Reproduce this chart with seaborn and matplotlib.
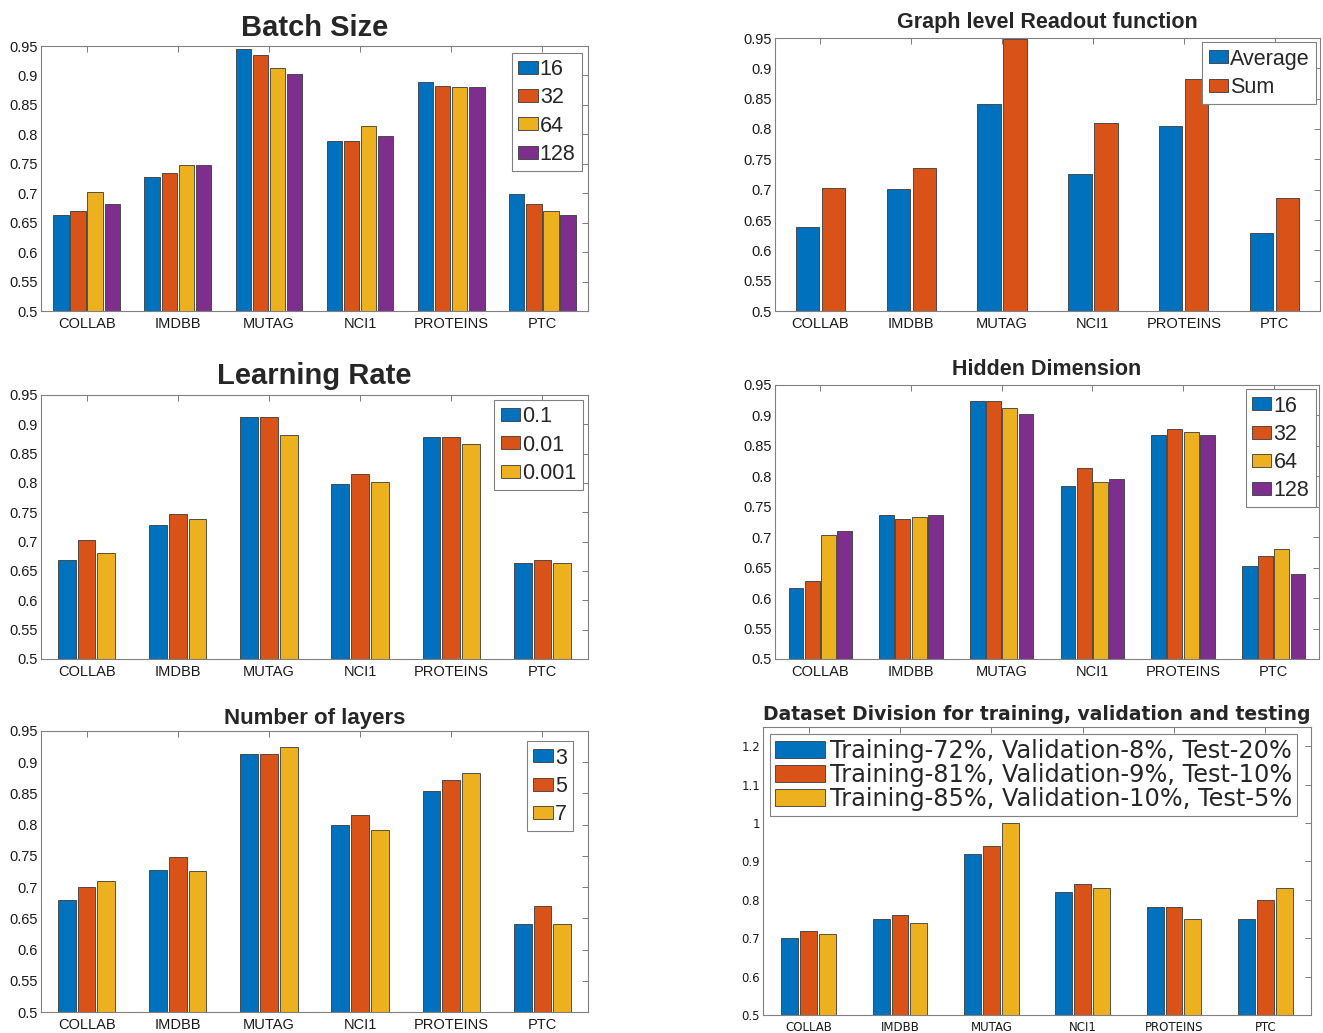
import numpy as np
import pandas as pd
import matplotlib
matplotlib.use("Agg")
import matplotlib.pyplot as plt
import seaborn as sns

sns.set_style("white")
plt.rcParams["font.family"] = ["Liberation Sans", "DejaVu Sans"]

datasets = ["COLLAB", "IMDBB", "MUTAG", "NCI1", "PROTEINS", "PTC"]

# Batch size
batch_labels = ["16", "32", "64", "128"]
batch_16 = [0.663, 0.728, 0.945, 0.789, 0.889, 0.699]
batch_32 = [0.669, 0.734, 0.935, 0.789, 0.882, 0.681]
batch_64 = [0.702, 0.748, 0.913, 0.815, 0.880, 0.669]
batch_128 = [0.681, 0.748, 0.902, 0.797, 0.881, 0.663]

# Graph level readout function
readout_labels = ["Average", "Sum"]
readout_avg = [0.638, 0.701, 0.842, 0.726, 0.805, 0.628]
readout_sum = [0.703, 0.736, 0.948, 0.810, 0.883, 0.686]

# Learning rate
lr_labels = ["0.1", "0.01", "0.001"]
lr_1e1 = [0.669, 0.728, 0.913, 0.799, 0.879, 0.663]
lr_1e2 = [0.702, 0.748, 0.913, 0.815, 0.879, 0.669]
lr_1e3 = [0.681, 0.738, 0.881, 0.801, 0.866, 0.663]

# Hidden dimension
hidden_labels = ["16", "32", "64", "128"]
hidden_16 = [0.617, 0.736, 0.924, 0.784, 0.868, 0.652]
hidden_32 = [0.628, 0.730, 0.924, 0.813, 0.877, 0.669]
hidden_64 = [0.703, 0.734, 0.913, 0.790, 0.872, 0.681]
hidden_128 = [0.710, 0.736, 0.903, 0.796, 0.868, 0.640]

# Number of layers
layer_labels = ["3", "5", "7"]
layers_3 = [0.680, 0.728, 0.913, 0.799, 0.854, 0.641]
layers_5 = [0.700, 0.748, 0.913, 0.815, 0.871, 0.669]
layers_7 = [0.710, 0.726, 0.924, 0.792, 0.882, 0.641]

# Dataset split
split_labels = ["Training-72%, Validation-8%, Test-20%",
                "Training-81%, Validation-9%, Test-10%",
                "Training-85%, Validation-10%, Test-5%"]
split_72 = [0.70, 0.75, 0.92, 0.82, 0.78, 0.75]
split_81 = [0.72, 0.76, 0.94, 0.84, 0.78, 0.80]
split_85 = [0.71, 0.74, 1.00, 0.83, 0.75, 0.83]

colors = ["#0072BD", "#D95319", "#EDB120", "#7E2F8E"]

W, H = 1323, 1033
fig = plt.figure(figsize=(W / 100, H / 100), dpi=100)


def axes_px(left, right, top, bottom):
    return fig.add_axes([left / W, 1 - bottom / H, (right - left) / W, (bottom - top) / H])


def long_table(labels, series):
    rows = []
    for lab, vals in zip(labels, series):
        for d, v in zip(datasets, vals):
            rows.append({"dataset": d, "setting": lab, "accuracy": v})
    return pd.DataFrame(rows)


def draw_panel(ax, labels, series, width, ylim, yticks, title, title_size,
               legend_kw, family=None, tick_size=10.5, title_pad=5):
    df = long_table(labels, series)
    sns.barplot(data=df, x="dataset", y="accuracy", hue="setting",
                order=datasets, hue_order=labels,
                palette=colors[:len(labels)], saturation=1,
                width=width, gap=0.1, edgecolor="#3a3a3a", linewidth=0.6,
                errorbar=None, ax=ax)
    ax.set_xlim(-0.5, 5.5)
    ax.set_ylim(*ylim)
    ax.set_yticks(yticks)
    ax.set_yticklabels([f"{round(t, 3):g}" for t in yticks])
    ax.set_xlabel("")
    ax.set_ylabel("")
    ax.tick_params(direction="in", top=True, right=True, length=4, width=0.6,
                   color="#666666", labelsize=tick_size, labelcolor="#1a1a1a")
    ax.tick_params(axis="y", pad=2)
    ax.tick_params(axis="x", pad=4)
    for s in ax.spines.values():
        s.set_color("#808080")
        s.set_linewidth(0.8)
    tkw = {"fontsize": title_size, "fontweight": "bold", "pad": title_pad}
    if family:
        tkw["family"] = family
        for lab in ax.get_xticklabels() + ax.get_yticklabels():
            lab.set_family(family)
    ax.set_title(title, **tkw)
    handles, labs = ax.get_legend_handles_labels()
    base = dict(frameon=True, fancybox=False, framealpha=1, edgecolor="#808080",
                borderaxespad=0, borderpad=0.3, handletextpad=0.1,
                labelspacing=0.33, handlelength=0.9, handleheight=0.55)
    base.update(legend_kw)
    leg = ax.legend(handles, labs, **base)
    leg.get_frame().set_linewidth(0.8)


yt = np.arange(0.5, 0.951, 0.05)

ax1 = axes_px(41, 588, 46, 311)
draw_panel(ax1, batch_labels, [batch_16, batch_32, batch_64, batch_128], 0.75,
           (0.5, 0.95), yt, "Batch Size", 21,
           dict(loc="upper right", bbox_to_anchor=(0.989, 0.974), fontsize=15.5),
           title_pad=7)

ax2 = axes_px(775, 1320, 38, 311)
draw_panel(ax2, readout_labels, [readout_avg, readout_sum], 0.57,
           (0.5, 0.95), yt, "Graph level Readout function", 15.5,
           dict(loc="upper right", bbox_to_anchor=(0.993, 0.985), fontsize=15.5),
           title_pad=7)

ax3 = axes_px(41, 588, 395, 659)
draw_panel(ax3, lr_labels, [lr_1e1, lr_1e2, lr_1e3], 0.65,
           (0.5, 0.95), yt, "Learning Rate", 21,
           dict(loc="upper right", bbox_to_anchor=(0.991, 0.981), fontsize=15.5),
           title_pad=8)

ax4 = axes_px(775, 1319, 385, 659)
draw_panel(ax4, hidden_labels, [hidden_16, hidden_32, hidden_64, hidden_128], 0.72,
           (0.5, 0.95), yt, "Hidden Dimension", 15.5,
           dict(loc="upper right", bbox_to_anchor=(0.994, 0.985), fontsize=15.5),
           title_pad=7)

ax5 = axes_px(41, 588, 731, 1012)
draw_panel(ax5, layer_labels, [layers_3, layers_5, layers_7], 0.65,
           (0.5, 0.95), yt, "Number of layers", 16,
           dict(loc="upper right", bbox_to_anchor=(0.973, 0.964), fontsize=15.5),
           title_pad=5)

ax6 = axes_px(763, 1311, 727, 1015)
draw_panel(ax6, split_labels, [split_72, split_81, split_85], 0.62,
           (0.5, 1.25), np.arange(0.5, 1.201, 0.1),
           "Dataset Division for training, validation and testing", 13.5,
           dict(loc="upper left", bbox_to_anchor=(0.013, 0.976),
                prop={"family": "DejaVu Sans", "size": 17.3},
                handlelength=2.1, handleheight=0.72, labelspacing=0.0,
                handletextpad=0.2, borderpad=0.2),
           family="DejaVu Sans", tick_size=8.5, title_pad=5)

fig.savefig("out.png", dpi=100)
